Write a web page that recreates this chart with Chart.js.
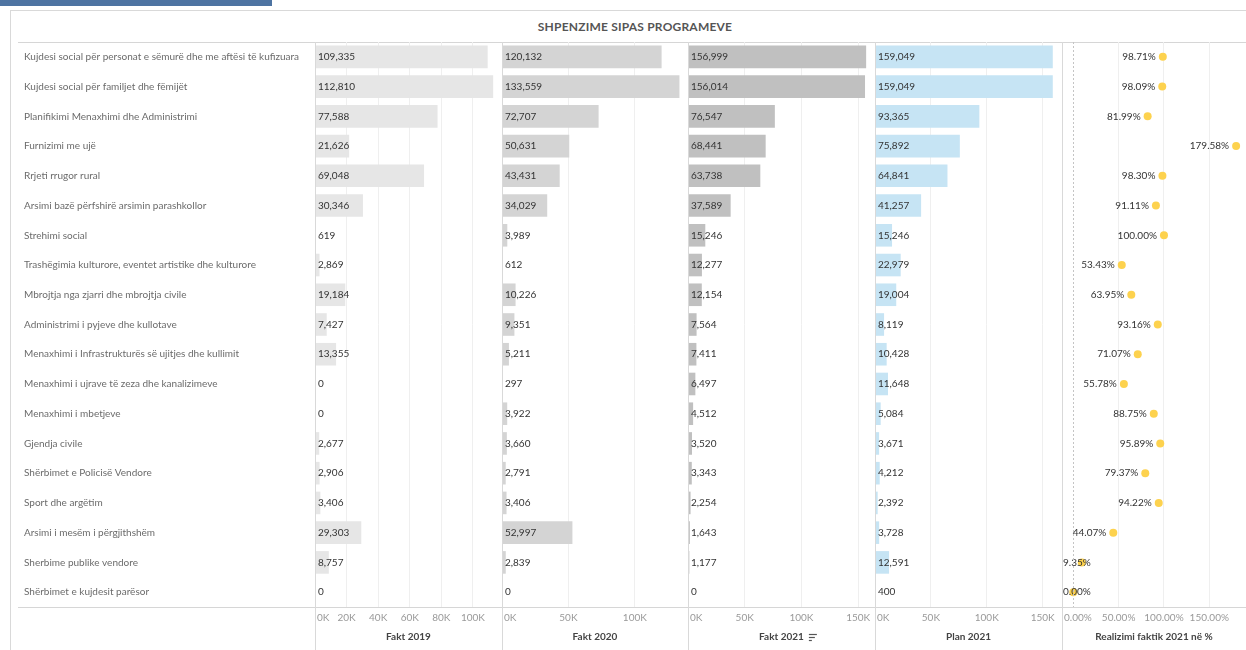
<!DOCTYPE html>
<html><head><meta charset="utf-8">
<script src="https://cdn.jsdelivr.net/npm/chart.js@4.4.1/dist/chart.umd.min.js"></script>
<style>
html,body{margin:0;padding:0;background:#fff;width:1246px;height:650px;overflow:hidden;font-family:Lato,sans-serif;}
.abs{position:absolute;}
#topbar{left:0;top:0;width:272px;height:6px;background:#4e74a2;}
#frame{left:10px;top:10px;width:1260px;height:670px;border:1px solid #d9d9d9;box-sizing:border-box;}
#title{left:435px;top:19px;width:400px;text-align:center;font-weight:bold;font-size:12px;color:#555;letter-spacing:0.2px;}
.hline{left:18px;width:1228px;height:1px;background:#d6d6d6;}
.cw{position:absolute;top:42px;height:608px;}
</style></head><body>
<div id="topbar" class="abs"></div>
<div id="frame" class="abs"></div>
<div id="title" class="abs">SHPENZIME SIPAS PROGRAMEVE</div>
<div class="abs hline" style="top:42px"></div>
<div class="abs hline" style="top:607px"></div>
<div class="cw" style="left:18px;width:484px"><canvas id="c1"></canvas></div>
<div class="cw" style="left:502px;width:186px"><canvas id="c2"></canvas></div>
<div class="cw" style="left:688px;width:187px"><canvas id="c3"></canvas></div>
<div class="cw" style="left:875px;width:187px"><canvas id="c4"></canvas></div>
<div class="cw" style="left:1062px;width:184px"><canvas id="c5"></canvas></div>
<script>
const categories = [
  "Kujdesi social për personat e sëmurë dhe me aftësi të kufizuara",
  "Kujdesi social për familjet dhe fëmijët",
  "Planifikimi Menaxhimi dhe Administrimi",
  "Furnizimi me ujë",
  "Rrjeti rrugor rural",
  "Arsimi bazë përfshirë arsimin parashkollor",
  "Strehimi social",
  "Trashëgimia kulturore, eventet artistike dhe kulturore",
  "Mbrojtja nga zjarri dhe mbrojtja civile",
  "Administrimi i pyjeve dhe kullotave",
  "Menaxhimi i Infrastrukturës së ujitjes dhe kullimit",
  "Menaxhimi i ujrave të zeza dhe kanalizimeve",
  "Menaxhimi i mbetjeve",
  "Gjendja civile",
  "Shërbimet e Policisë Vendore",
  "Sport dhe argëtim",
  "Arsimi i mesëm i përgjithshëm",
  "Sherbime publike vendore",
  "Shërbimet e kujdesit parësor"
];
const fakt2019 = [109335,112810,77588,21626,69048,30346,619,2869,19184,7427,13355,0,0,2677,2906,3406,29303,8757,0];
const fakt2020 = [120132,133559,72707,50631,43431,34029,3989,612,10226,9351,5211,297,3922,3660,2791,3406,52997,2839,0];
const fakt2021 = [156999,156014,76547,68441,63738,37589,15246,12277,12154,7564,7411,6497,4512,3520,3343,2254,1643,1177,0];
const plan2021 = [159049,159049,93365,75892,64841,41257,15246,22979,19004,8119,10428,11648,5084,3671,4212,2392,3728,12591,400];
const realizimi = [98.71,98.09,81.99,179.58,98.30,91.11,100.00,53.43,63.95,93.16,71.07,55.78,88.75,95.89,79.37,94.22,44.07,9.35,0.00];

const ticks2019 = [0,20000,40000,60000,80000,100000];
const ticks2020 = [0,50000,100000];
const ticks2021 = [0,50000,100000,150000];
const ticksPlan = [0,50000,100000,150000];
const ticksPct = [0,50,100,150];

const FONT = 'Lato';
const fmtNum = v => v.toLocaleString('en-US');
const fmtK = v => (v/1000) + 'K';
const fmtPct = v => v.toFixed(2) + '%';

function panelPlugin(o) {
  return {
    id: 'panel' + o.id,
    afterDatasetsDraw(chart) {
      const ctx = chart.ctx, ca = chart.chartArea, xs = chart.scales.x;
      const meta = chart.getDatasetMeta(0);
      ctx.save();
      ctx.font = '10px ' + FONT;
      ctx.fillStyle = '#333';
      ctx.textBaseline = 'middle';
      if (o.kind === 'bar') {
        const x0 = xs.getPixelForValue(0) + 3;
        ctx.textAlign = 'left';
        meta.data.forEach((el, i) => ctx.fillText(fmtNum(o.values[i]), x0, el.y));
      } else {
        ctx.textAlign = 'right';
        meta.data.forEach((el, i) => {
          const t = fmtPct(o.values[i]);
          const w = ctx.measureText(t).width;
          let r = el.x - 7;
          if (r - w < ca.left + 1) r = ca.left + 1 + w;
          ctx.fillText(t, r, el.y);
        });
      }
      ctx.restore();
    },
    afterDraw(chart) {
      const ctx = chart.ctx, ca = chart.chartArea, xs = chart.scales.x;
      ctx.save();
      const xl = Math.round(ca.left) + 0.5;
      ctx.strokeStyle = '#d9d9d9'; ctx.lineWidth = 1;
      ctx.beginPath(); ctx.moveTo(xl, ca.top); ctx.lineTo(xl, chart.height); ctx.stroke();
      if (o.kind === 'dot') {
        const x0 = Math.round(xs.getPixelForValue(0)) + 0.5;
        ctx.strokeStyle = '#c4c4c4'; ctx.setLineDash([2, 2]);
        ctx.beginPath(); ctx.moveTo(x0, ca.top); ctx.lineTo(x0, ca.bottom); ctx.stroke();
        ctx.setLineDash([]);
      }
      ctx.font = '10px ' + FONT;
      ctx.fillStyle = '#999';
      ctx.textBaseline = 'middle';
      ctx.textAlign = 'left';
      o.ticks.forEach(v => {
        const t = o.fmt(v);
        const w = ctx.measureText(t).width;
        const x = xs.getPixelForValue(v);
        let l = x - w / 2;
        if (l < ca.left + 2) l = ca.left + 2;
        if (l + w > ca.right - 1) l = ca.right - 1 - w;
        ctx.fillText(t, l, ca.bottom + 11);
      });
      if (o.sortIcon) {
        ctx.font = 'bold 10px ' + FONT;
        const w = ctx.measureText(o.title).width;
        const cx = (ca.left + ca.right) / 2;
        const x = cx + w / 2 + 5, y = chart.height - 13;
        ctx.strokeStyle = '#555'; ctx.lineWidth = 1.2;
        [[8, -3], [6, 0], [3, 3]].forEach(([len, dy]) => {
          ctx.beginPath(); ctx.moveTo(x, y + dy + 0.5); ctx.lineTo(x + len, y + dy + 0.5); ctx.stroke();
        });
      }
      ctx.restore();
    }
  };
}

function xScale(min, max, tickVals, title) {
  return {
    type: 'linear', min: min, max: max,
    afterBuildTicks: s => { s.ticks = tickVals.map(v => ({value: v})); },
    afterFit: s => { s.height = 43; s.paddingLeft = 0; s.paddingRight = 0; },
    ticks: {display: false},
    grid: {color: c => (c.tick && c.tick.value === 0) ? 'rgba(0,0,0,0)' : '#efefef', drawTicks: false},
    border: {display: false},
    title: {display: true, text: title, color: '#444', font: {family: FONT, size: 10, weight: 'bold'}, padding: {top: 0, bottom: 7}}
  };
}

function barChart(id, vals, color, tickVals, max, title, showY, sortIcon) {
  return new Chart(document.getElementById(id), {
    type: 'bar',
    data: {labels: categories, datasets: [{data: vals, backgroundColor: color, barPercentage: 0.76, categoryPercentage: 1, borderWidth: 0}]},
    options: {
      indexAxis: 'y', responsive: true, maintainAspectRatio: false, animation: false,
      layout: {padding: {left: showY ? 6 : 0, right: 0, top: 0, bottom: 0}, autoPadding: false},
      plugins: {legend: {display: false}, tooltip: {enabled: false}},
      scales: {
        x: xScale(0, max, tickVals, title),
        y: {
          display: showY,
          afterFit: s => { if (showY) s.width = 291; s.paddingTop = 0; s.paddingBottom = 0; },
          grid: {display: false}, border: {display: false},
          ticks: {crossAlign: 'far', color: '#6b6b6b', font: {family: FONT, size: 10}, padding: 0, autoSkip: false}
        }
      }
    },
    plugins: [panelPlugin({id: id, kind: 'bar', values: vals, ticks: tickVals, fmt: fmtK, title: title, sortIcon: sortIcon})]
  });
}

barChart('c1', fakt2019, '#e6e6e6', ticks2019, 118400, 'Fakt 2019', true, false);
barChart('c2', fakt2020, '#d4d4d4', ticks2020, 140000, 'Fakt 2020', false, false);
barChart('c3', fakt2021, '#c0c0c0', ticks2021, 164800, 'Fakt 2021', false, true);
barChart('c4', plan2021, '#c6e4f4', ticksPlan, 167300, 'Plan 2021', false, false);

new Chart(document.getElementById('c5'), {
  type: 'line',
  data: {labels: categories, datasets: [{data: realizimi, showLine: false, pointRadius: 4, pointHoverRadius: 4, pointBackgroundColor: '#fdd24e', pointBorderWidth: 0, clip: false}]},
  options: {
    indexAxis: 'y', responsive: true, maintainAspectRatio: false, animation: false,
    layout: {padding: 0, autoPadding: false},
    plugins: {legend: {display: false}, tooltip: {enabled: false}},
    scales: {
      x: xScale(-12.5, 190.5, ticksPct, 'Realizimi faktik 2021 në %'),
      y: {display: false, offset: true}
    }
  },
  plugins: [panelPlugin({id: 'c5', kind: 'dot', values: realizimi, ticks: ticksPct, fmt: fmtPct, title: '', sortIcon: false})]
});
</script>
</body></html>
